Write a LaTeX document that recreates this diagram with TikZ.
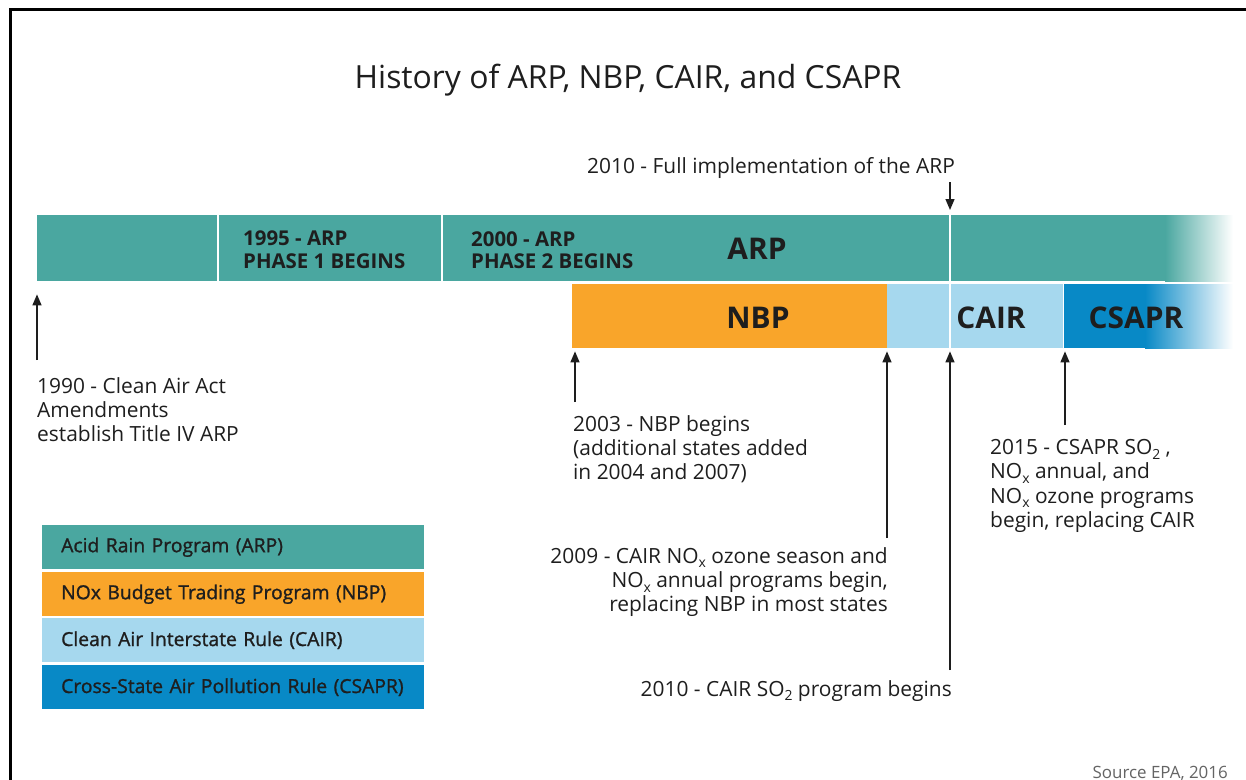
\documentclass[tikz,border=0pt]{standalone}
\usepackage{fontspec}
\setmainfont{Open Sans}
\newfontfamily\semib[FakeBold=1.2]{Open Sans}
\usetikzlibrary{arrows.meta}
\definecolor{arpc}{RGB}{74,167,160}
\definecolor{nbpc}{RGB}{249,165,42}
\definecolor{cairc}{RGB}{166,216,238}
\definecolor{csaprc}{RGB}{8,137,198}
\definecolor{ink}{RGB}{30,30,30}
\definecolor{srcgray}{RGB}{100,100,100}
\newcommand\fsz[2]{\fontsize{#1}{#2}\selectfont}
\newcommand\mysub[1]{\raisebox{-0.42ex}{\fsz{14}{14}#1}}
\begin{document}
\begin{tikzpicture}[x=1bp,y=-1bp,
  bar/.style={inner sep=0, draw=none, anchor=north west},
  lbl/.style={inner sep=0, text=ink, font=\fsz{21}{24.5}},
  blbl/.style={inner sep=0, text=ink, font=\fsz{20.5}{22.5}\bfseries, align=left, anchor=north west},
  big/.style={inner sep=0, text=ink, font=\fsz{30}{32}\bfseries},
  leg/.style={anchor=north west, minimum width=382bp, minimum height=44bp, text width=344bp,
     inner xsep=19bp, inner ysep=0, align=left, text=ink, font=\fsz{19.4}{22}\semib},
  arr/.style={-{Triangle[length=11bp,width=9bp]}, line width=1.3bp, draw=ink}]
\useasboundingbox[fill=white] (0,0) rectangle (1246,780);
% frame
\draw[line width=3bp, black] (10,780) -- (10,9.5) -- (1246,9.5);
% title
\node[inner sep=0, text=ink, font=\fsz{32}{34}] (title) at (628,80) {History of ARP, NBP, CAIR, and CSAPR};
% ARP bar
\node[bar, fill=arpc, minimum width=1195bp, minimum height=66bp] (arp) at (37,215) {};
\shade[left color=arpc, right color=white] (1165,215) rectangle (1233,281);
\draw[white, line width=2bp] (218,215) -- (218,281);
\draw[white, line width=2bp] (442,215) -- (442,281);
\draw[white, line width=2bp] (950,215) -- (950,281);
% second row
\node[bar, fill=nbpc, minimum width=315bp, minimum height=64bp] (nbp) at (572,284) {};
\node[bar, fill=cairc, minimum width=176bp, minimum height=64bp] (cair) at (887,284) {};
\draw[white, line width=2bp] (950,284) -- (950,348);
\node[bar, fill=csaprc, minimum width=168bp, minimum height=64bp] (csapr) at (1064,284) {};
\shade[left color=csaprc, middle color=cairc, right color=white] (1145,284) rectangle (1233,348);
% bar labels
\node[blbl] (p1) at (243,231) {1995 - ARP\\PHASE 1 BEGINS};
\node[blbl] (p2) at (471,231) {2000 - ARP\\PHASE 2 BEGINS};
\node[big] (larp) at (757,249) {ARP};
\node[big] (lnbp) at (758,318) {NBP};
\node[big] (lcair) at (991,318) {CAIR};
\node[big] (lcsapr) at (1136,318) {CSAPR};
% top annotation
\node[lbl] (tfull) at (771,168) {2010 - Full implementation of the ARP};
\coordinate (cfull) at (950,182);
\draw[arr] (cfull) -- ([yshift=5bp]cfull |- arp.north);
% annotations below
\node[lbl, anchor=north west, align=left] (t1990) at (37,377) {1990 - Clean Air Act\\Amendments\\establish Title IV ARP};
\coordinate (c1990) at (37,360);
\draw[arr] (c1990) -- ([yshift=-13bp]c1990 |- arp.south);
\node[lbl, anchor=north west, align=left] (t2003) at (573,415) {2003 - NBP begins\\(additional states added\\in 2004 and 2007)};
\coordinate (c2003) at (575,402);
\draw[arr] (c2003) -- ([yshift=-3bp]c2003 |- nbp.south);
\node[lbl, anchor=north east, align=right] (t2009) at (888,547) {2009 - CAIR NO\mysub{x} ozone season and\\NO\mysub{x} annual programs begin,\\replacing NBP in most states};
\coordinate (c2009) at (887,538);
\draw[arr] (c2009) -- ([yshift=-3bp]c2009 |- nbp.south);
\node[lbl, anchor=north east, align=right] (t2010) at (952,680) {2010 - CAIR SO\mysub{2} program begins};
\coordinate (c2010) at (950,670);
\draw[arr] (c2010) -- ([yshift=-3bp]c2010 |- cair.south);
\node[lbl, anchor=north west, align=left] (t2015) at (990,439) {2015 - CSAPR SO\mysub{2} ,\\NO\mysub{x} annual, and\\NO\mysub{x} ozone programs\\begin, replacing CAIR};
\coordinate (c2015) at (1065,425);
\draw[arr] (c2015) -- ([yshift=-3bp]c2015 |- csapr.south);
% legend
\node[leg, fill=arpc] (legarp) at (42,525) {Acid Rain Program (ARP)};
\node[leg, fill=nbpc] (legnbp) at (42,572) {NOx Budget Trading Program (NBP)};
\node[leg, fill=cairc] (legcair) at (42,618) {Clean Air Interstate Rule (CAIR)};
\node[leg, fill=csaprc] (legcsapr) at (42,665) {Cross-State Air Pollution Rule (CSAPR)};
% source
\node[inner sep=0, anchor=east, text=srcgray, font=\fsz{17}{19}] (src) at (1228,773) {Source EPA, 2016};
\end{tikzpicture}
\end{document}
